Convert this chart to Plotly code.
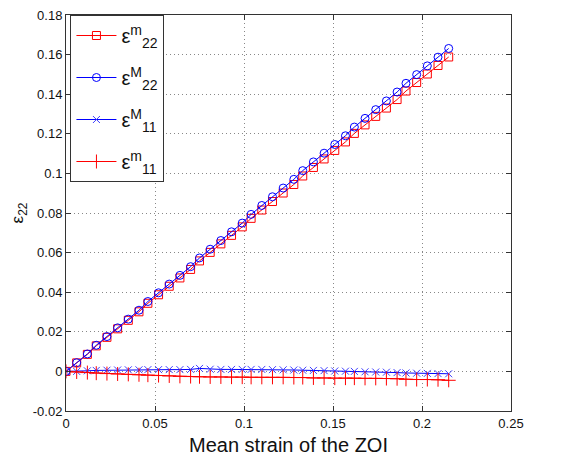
import plotly.graph_objects as go

mean_strain = [0, 0.006, 0.012, 0.017, 0.023, 0.029, 0.035, 0.041, 0.046, 0.052,
               0.058, 0.064, 0.070, 0.075, 0.081, 0.087, 0.093, 0.099, 0.104, 0.110,
               0.116, 0.122, 0.128, 0.133, 0.139, 0.145, 0.151, 0.157, 0.162, 0.168,
               0.174, 0.180, 0.186, 0.191, 0.197, 0.203, 0.209, 0.215]

e22_m = [0, 0.0043, 0.0086, 0.0129, 0.0172, 0.0215, 0.0258, 0.0301, 0.0344, 0.0387,
         0.0430, 0.0472, 0.0515, 0.0558, 0.0601, 0.0644, 0.0687, 0.0730, 0.0773, 0.0815,
         0.0858, 0.0901, 0.0944, 0.0987, 0.1030, 0.1073, 0.1116, 0.1159, 0.1202, 0.1245,
         0.1288, 0.1330, 0.1373, 0.1416, 0.1459, 0.1502, 0.1545, 0.1588]

e22_M = [0, 0.0044, 0.0088, 0.0132, 0.0176, 0.0220, 0.0264, 0.0309, 0.0353, 0.0397,
         0.0441, 0.0485, 0.0529, 0.0573, 0.0617, 0.0661, 0.0705, 0.0749, 0.0793, 0.0838,
         0.0882, 0.0926, 0.0970, 0.1014, 0.1058, 0.1102, 0.1146, 0.1190, 0.1234, 0.1278,
         0.1322, 0.1366, 0.1411, 0.1455, 0.1499, 0.1543, 0.1587, 0.1631]

e11_M = [0, 0.0000, 0.0003, 0.0005, 0.0006, 0.0007, 0.0008, 0.0008, 0.0009, 0.0009,
         0.0009, 0.0009, 0.0010, 0.0015, 0.0011, 0.0010, 0.0010, 0.0010, 0.0010, 0.0010,
         0.0009, 0.0008, 0.0007, 0.0006, 0.0005, 0.0004, 0.0002, 0.0001, 0.0000, -0.0002,
         -0.0003, -0.0004, -0.0006, -0.0008, -0.0009, -0.0010, -0.0011, -0.0012]

e11_m = [0, -0.0003, -0.0006, -0.0009, -0.0011, -0.0013, -0.0015, -0.0017, -0.0019, -0.0021,
         -0.0023, -0.0025, -0.0026, -0.0027, -0.0028, -0.0028, -0.0029, -0.0029, -0.0030, -0.0030,
         -0.0030, -0.0030, -0.0031, -0.0031, -0.0033, -0.0033, -0.0034, -0.0034, -0.0034, -0.0035,
         -0.0035, -0.0036, -0.0037, -0.0040, -0.0041, -0.0041, -0.0042, -0.0045]

x_ticks = [0, 0.05, 0.1, 0.15, 0.2, 0.25]
x_labels = ["0", "0.05", "0.1", "0.15", "0.2", "0.25"]
y_ticks = [-0.02, 0, 0.02, 0.04, 0.06, 0.08, 0.1, 0.12, 0.14, 0.16, 0.18]
y_labels = ["-0.02", "0", "0.02", "0.04", "0.06", "0.08", "0.1", "0.12", "0.14", "0.16", "0.18"]

RED = "#ff0000"
BLUE = "#0000ff"
LIGHT_BLUE = "#3f3fff"
FONT = "Liberation Sans, Arial, sans-serif"

fig = go.Figure()
series = [
    ("ε<sup>m</sup><sub>22</sub>", e22_m, RED, RED, "square-open", 8),
    ("ε<sup>M</sup><sub>22</sub>", e22_M, BLUE, BLUE, "circle-open", 8),
    ("ε<sup>M</sup><sub>11</sub>", e11_M, BLUE, LIGHT_BLUE, "x-thin-open", 7),
    ("ε<sup>m</sup><sub>11</sub>", e11_m, RED, RED, "cross-thin-open", 10),
]
for i, (name, ys, col, mcol, sym, sz) in enumerate(series):
    fig.add_trace(go.Scatter(
        x=mean_strain, y=ys, mode="lines+markers", name=name,
        legendgroup=f"g{i}",
        line=dict(color=col, width=1),
        marker=dict(symbol=sym, size=sz, color=mcol, line=dict(color=mcol, width=1)),
    ))

axis_common = dict(
    showline=True, linecolor="#333333", linewidth=1, mirror="allticks",
    ticks="inside", ticklen=5, tickcolor="#333333",
    showgrid=True, gridcolor="#888888", griddash="1px,3px", gridwidth=1,
    zeroline=False, automargin=False, ticklabeloverflow="allow",
    tickfont=dict(family=FONT, size=13, color="#111111"),
)

fig.update_layout(
    width=555, height=457,
    paper_bgcolor="white", plot_bgcolor="white",
    margin=dict(l=58, r=52, t=7, b=54),
    showlegend=True,
    legend=dict(
        x=0.01, y=1, xanchor="left", yanchor="top",
        bgcolor="white", bordercolor="#333333", borderwidth=1,
        traceorder="grouped", tracegroupgap=13,
        font=dict(family=FONT, size=20, color="#111111"),
        itemwidth=40,
    ),
    xaxis=dict(range=[0, 0.25], tickvals=x_ticks, ticktext=x_labels,
               title=dict(text="Mean strain of the ZOI", standoff=8,
                          font=dict(family=FONT, size=20, color="#111111")),
               **axis_common),
    yaxis=dict(range=[-0.02, 0.18], tickvals=y_ticks, ticktext=y_labels,
               title=dict(text="ε<sub>22</sub>", standoff=4,
                          font=dict(family=FONT, size=17, color="#111111")),
               **axis_common),
)

fig.write_html("out.html")
